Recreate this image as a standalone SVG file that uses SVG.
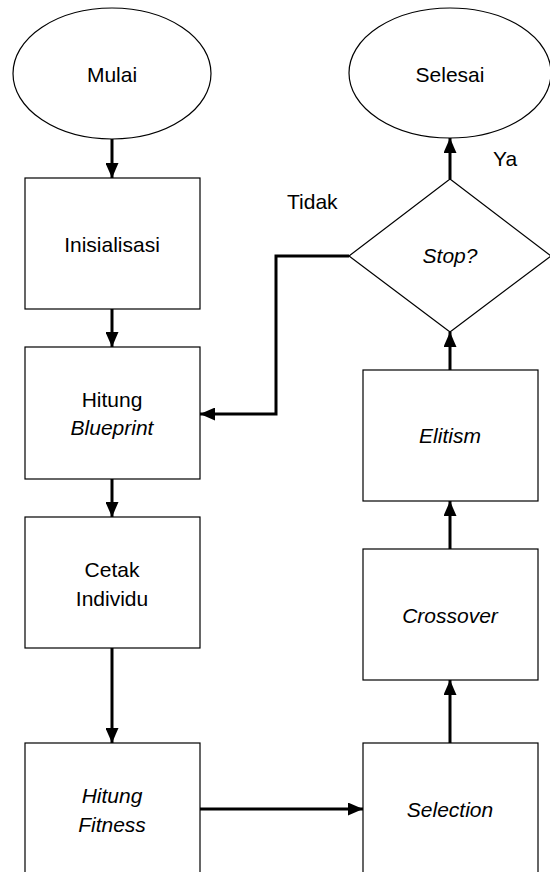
<svg xmlns="http://www.w3.org/2000/svg" width="550" height="872" viewBox="0 0 550 872">
<style>
.shape{fill:#fff;stroke:#000;stroke-width:1.2}
.t{font-family:"Liberation Sans",Arial,sans-serif;font-size:21px;fill:#000;text-anchor:middle}
.i{font-style:italic}
.c{fill:none;stroke:#000;stroke-width:3}
.lbl{font-family:"Liberation Sans",Arial,sans-serif;font-size:21px;fill:#000}
</style>
<defs>
<marker id="ah" markerUnits="userSpaceOnUse" markerWidth="15" markerHeight="13" refX="15" refY="6.5" orient="auto">
<path d="M0,0 L15,6.5 L0,13 z" fill="#000"/>
</marker>
</defs>
<rect width="550" height="872" fill="#fff"/>
<g id="mulai"><ellipse class="shape" cx="112" cy="73.5" rx="99" ry="65.5"/><text class="t" x="112" y="82">Mulai</text></g>
<g id="inisialisasi"><rect class="shape" x="25" y="178" width="175" height="131"/><text class="t" x="112" y="252">Inisialisasi</text></g>
<g id="blueprint"><rect class="shape" x="25" y="347" width="175" height="132"/><text class="t" x="112" y="407">Hitung</text><text class="t i" x="112" y="435">Blueprint</text></g>
<g id="cetak"><rect class="shape" x="25" y="517" width="175" height="131"/><text class="t" x="112" y="577">Cetak</text><text class="t" x="112" y="606">Individu</text></g>
<g id="fitness"><rect class="shape" x="25" y="743" width="175" height="140"/><text class="t i" x="112" y="803">Hitung</text><text class="t i" x="112" y="832">Fitness</text></g>
<g id="selection"><rect class="shape" x="363" y="743" width="175" height="140"/><text class="t i" x="450" y="817">Selection</text></g>
<g id="crossover"><rect class="shape" x="363" y="549" width="175" height="131"/><text class="t i" x="450" y="623">Crossover</text></g>
<g id="elitism"><rect class="shape" x="363" y="370" width="175" height="131"/><text class="t i" x="450" y="443">Elitism</text></g>
<g id="stop"><polygon class="shape" points="450,179 551,256 450,332 349,256"/><text class="t i" x="450" y="263">Stop?</text></g>
<g id="selesai"><ellipse class="shape" cx="450" cy="73" rx="101" ry="65"/><text class="t" x="450" y="82">Selesai</text></g>
<g id="connectors">
<line class="c" x1="112" y1="139" x2="112" y2="178" marker-end="url(#ah)"/>
<line class="c" x1="112" y1="309" x2="112" y2="347" marker-end="url(#ah)"/>
<line class="c" x1="112" y1="479" x2="112" y2="517" marker-end="url(#ah)"/>
<line class="c" x1="112" y1="648" x2="112" y2="743" marker-end="url(#ah)"/>
<line class="c" x1="200" y1="809" x2="363" y2="809" marker-end="url(#ah)"/>
<line class="c" x1="450" y1="743" x2="450" y2="680" marker-end="url(#ah)"/>
<line class="c" x1="450" y1="549" x2="450" y2="501" marker-end="url(#ah)"/>
<line class="c" x1="450" y1="370" x2="450" y2="332" marker-end="url(#ah)"/>
<line class="c" x1="450" y1="179" x2="450" y2="138" marker-end="url(#ah)"/>
<polyline class="c" points="349,256 276,256 276,414 200,414" marker-end="url(#ah)"/>
<text class="lbl" x="493" y="166">Ya</text>
<text class="lbl" x="287" y="209">Tidak</text>
</g>
</svg>
